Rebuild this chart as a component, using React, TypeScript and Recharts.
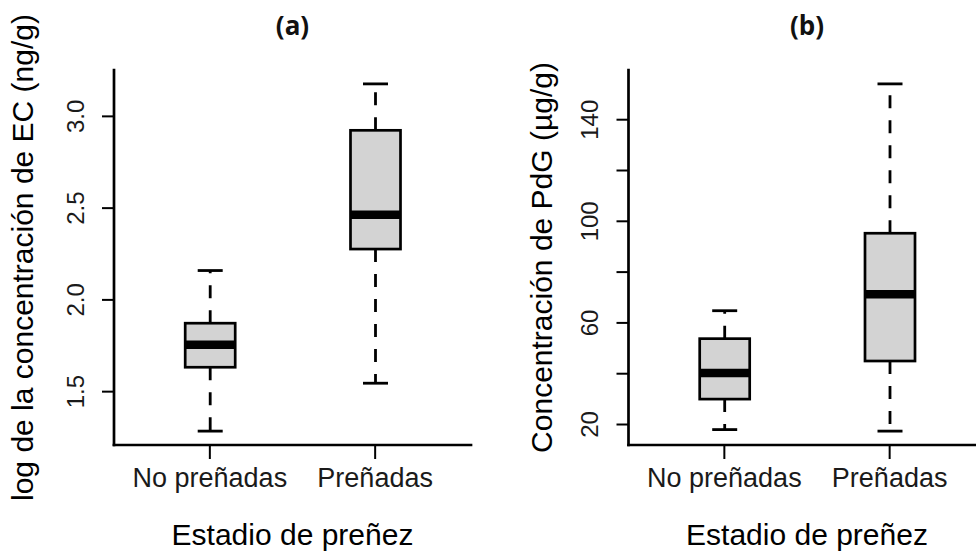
import React from "react";
import { ComposedChart, Bar, XAxis, YAxis, Label } from "recharts";

const groups = ["No preñadas", "Preñadas"];

// (a) log de EC: mínimo, Q1, mediana, Q3, máximo por grupo
const ecLow = [1.285, 1.546];
const ecQ1 = [1.633, 2.277];
const ecMedian = [1.755, 2.464];
const ecQ3 = [1.873, 2.924];
const ecHigh = [2.16, 3.177];
const ecTicks = [1.5, 2.0, 2.5, 3.0];

// (b) PdG
const pdgLow = [18.0, 17.4];
const pdgQ1 = [30.0, 45.0];
const pdgMedian = [40.3, 71.3];
const pdgQ3 = [53.8, 95.3];
const pdgHigh = [64.8, 154.1];
const pdgTicks = [20, 40, 60, 80, 100, 120, 140];
const pdgTickLabels = [20, 60, 100, 140];

const FONT = '"Liberation Sans", Arial, sans-serif';
const PLOT_W = 357;

const buildRows = (lo: number[], q1: number[], med: number[], q3: number[], hi: number[]) =>
  groups.map((name, i) => ({ name, lo: lo[i], q1: q1[i], med: med[i], q3: q3[i], hi: hi[i] }));

// rango del eje como en R: 4% extra a cada lado
const rDomain = (lo: number[], hi: number[]): [number, number] => {
  const a = Math.min(...lo);
  const b = Math.max(...hi);
  const pad = (b - a) * 0.04;
  return [a - pad, b + pad];
};

const BoxShape = (props: any) => {
  const { x, y, width, height, payload } = props;
  const { lo, q1, med, q3, hi } = payload;
  const py = (v: number) => y + ((hi - v) / (hi - lo)) * height;
  const cx = x + width / 2;
  const half = width / 4;
  return (
    <g>
      <line x1={cx} x2={cx} y1={py(q3)} y2={py(hi)} stroke="#000" strokeWidth={2.8} strokeDasharray="13 12" />
      <line x1={cx} x2={cx} y1={py(q1)} y2={py(lo)} stroke="#000" strokeWidth={2.8} strokeDasharray="13 12" />
      <line x1={cx - half} x2={cx + half} y1={py(hi)} y2={py(hi)} stroke="#000" strokeWidth={2.8} />
      <line x1={cx - half} x2={cx + half} y1={py(lo)} y2={py(lo)} stroke="#000" strokeWidth={2.8} />
      <rect x={x} y={py(q3)} width={width} height={py(q1) - py(q3)} fill="#d3d3d3" stroke="#000" strokeWidth={2.7} />
      <line x1={x} x2={x + width} y1={py(med)} y2={py(med)} stroke="#000" strokeWidth={8.5} />
    </g>
  );
};

const XTick = (props: any) => {
  const { x, y, payload } = props;
  return (
    <text x={x} y={y + 28} textAnchor="middle" fontFamily={FONT} fontSize={27} fill="#1a1a1a">
      {payload.value}
    </text>
  );
};

const makeYTick = (labeled: number[] | null, digits: number) => (props: any) => {
  const { x, y, payload } = props;
  if (labeled && !labeled.includes(payload.value)) return <g />;
  const bx = x - 18;
  return (
    <text
      x={bx}
      y={y}
      transform={`rotate(-90, ${bx}, ${y})`}
      textAnchor="middle"
      fontFamily={FONT}
      fontSize={24}
      fill="#1a1a1a"
    >
      {payload.value.toFixed(digits)}
    </text>
  );
};

interface PanelProps {
  letter: string;
  yTitle: string;
  rows: any[];
  domain: [number, number];
  ticks: number[];
  tick: (p: any) => React.ReactElement;
  left: number;
  width: number;
  axisLeft: number;
  titleGap: number;
}

const Panel = ({ letter, yTitle, rows, domain, ticks, tick, left, width, axisLeft, titleGap }: PanelProps) => (
  <div style={{ position: "absolute", left, top: 0, width, height: 554 }}>
    <div
      style={{
        position: "absolute",
        left: axisLeft,
        top: 5,
        width: PLOT_W,
        lineHeight: "40px",
        textAlign: "center",
        fontFamily: '"Open Sans", Lato, sans-serif',
        fontWeight: 700,
        fontSize: 26,
        color: "#111",
      }}
    >
      {letter}
    </div>
    <ComposedChart
      width={width}
      height={554}
      data={rows}
      margin={{ top: 70, right: width - axisLeft - PLOT_W, bottom: 0, left: 0 }}
    >
      <XAxis
        dataKey="name"
        type="category"
        height={109}
        interval={0}
        padding={{ left: 13.2, right: 13.2 }}
        tickSize={14}
        tickMargin={0}
        tick={<XTick />}
        axisLine={{ stroke: "#000", strokeWidth: 2.7, strokeLinecap: "square" }}
        tickLine={{ stroke: "#000", strokeWidth: 2 }}
      >
        <Label
          content={(p: any) => {
            const { x, y, width: w } = p.viewBox;
            return (
              <text x={x + w / 2} y={y + 100} textAnchor="middle" fontFamily={FONT} fontSize={30} fill="#000">
                Estadio de preñez
              </text>
            );
          }}
        />
      </XAxis>
      <YAxis
        type="number"
        domain={domain}
        ticks={ticks}
        allowDataOverflow
        width={axisLeft}
        tickSize={12}
        tickMargin={0}
        tick={tick}
        axisLine={{ stroke: "#000", strokeWidth: 2.7, strokeLinecap: "square" }}
        tickLine={{ stroke: "#000", strokeWidth: 2 }}
      >
        <Label
          content={(p: any) => {
            const { x, y, width: w, height: h } = p.viewBox;
            const bx = x + w - titleGap;
            const by = y + h / 2;
            return (
              <text
                x={bx}
                y={by}
                transform={`rotate(-90, ${bx}, ${by})`}
                textAnchor="middle"
                fontFamily={FONT}
                fontSize={30}
                fill="#000"
              >
                {yTitle}
              </text>
            );
          }}
        />
      </YAxis>
      <Bar dataKey={(d: any) => [d.lo, d.hi]} barSize={50} shape={BoxShape} isAnimationActive={false} />
    </ComposedChart>
  </div>
);

export default function App() {
  const ecRows = buildRows(ecLow, ecQ1, ecMedian, ecQ3, ecHigh);
  const pdgRows = buildRows(pdgLow, pdgQ1, pdgMedian, pdgQ3, pdgHigh);
  return (
    <div
      style={{
        position: "absolute",
        left: 0,
        top: 0,
        width: 976,
        height: 554,
        overflow: "hidden",
        background: "#fff",
      }}
    >
      <Panel
        letter="(a)"
        yTitle="log de la concentración de EC (ng/g)"
        rows={ecRows}
        domain={rDomain(ecLow, ecHigh)}
        ticks={ecTicks}
        tick={makeYTick(null, 1)}
        left={0}
        width={488}
        axisLeft={114}
        titleGap={81}
      />
      <Panel
        letter="(b)"
        yTitle="Concentración de PdG (µg/g)"
        rows={pdgRows}
        domain={rDomain(pdgLow, pdgHigh)}
        ticks={pdgTicks}
        tick={makeYTick(pdgTickLabels, 0)}
        left={488}
        width={497.5}
        axisLeft={140.5}
        titleGap={77}
      />
    </div>
  );
}
